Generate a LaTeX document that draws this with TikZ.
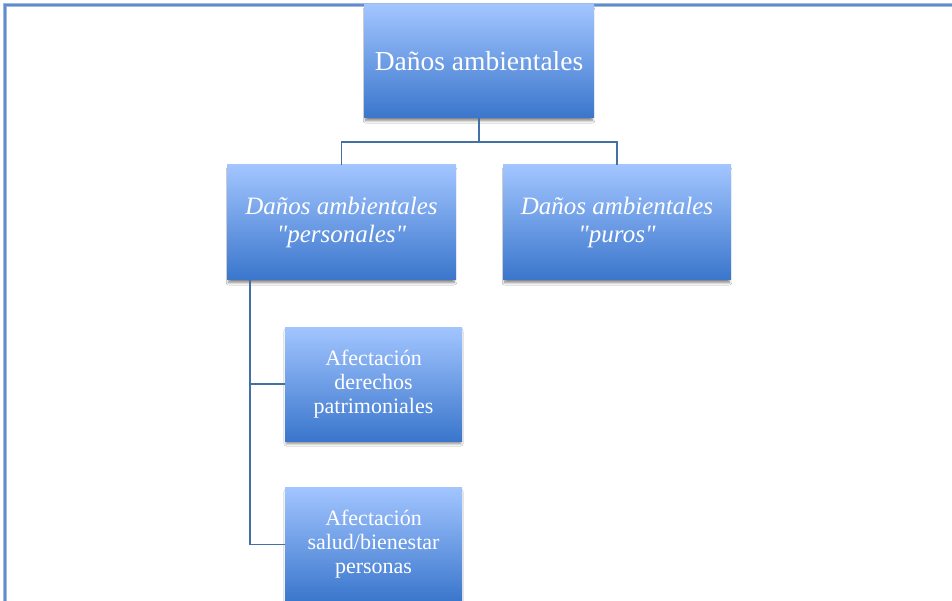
\documentclass[tikz,border=0pt]{standalone}
\usepackage{fontspec}
\setmainfont{Liberation Serif}
\usetikzlibrary{shadows.blur}
\definecolor{boxtop}{RGB}{162,197,255}
\definecolor{boxbot}{RGB}{58,118,204}
\definecolor{linkblue}{RGB}{68,112,168}
\definecolor{frameblue}{RGB}{96,140,206}
\begin{document}
\begin{tikzpicture}[x=1pt,y=-1pt,
  box/.style={rectangle, inner sep=0pt, align=center, text=white,
    top color=boxtop, bottom color=boxbot, draw=none,
    blur shadow={shadow xshift=0pt, shadow yshift=-3.5pt, shadow scale=0.985,
      shadow blur radius=2.5pt, shadow blur steps=6, shadow opacity=50}},
  conn/.style={draw=linkblue, line width=1.6pt}]
  \useasboundingbox (0,0) rectangle (952,601);
  \fill[white] (0,0) rectangle (952,601);
  % page frame
  \draw[frameblue!60, line width=3.6pt] (5,601) -- (5,5) -- (952,5);
  \draw[frameblue, line width=1.8pt] (5,601) -- (5,5) -- (952,5);
  % boxes
  \node[box, minimum width=230, minimum height=113,
    font=\fontsize{27.5}{30}\selectfont] (top) at (479,61.5) {Daños ambientales};
  \node[box, minimum width=229, minimum height=115,
    font=\fontsize{25}{28}\selectfont\itshape] (L) at (341.5,222.5)
    {Daños ambientales\\\textquotedbl personales\textquotedbl};
  \node[box, minimum width=228, minimum height=115,
    font=\fontsize{25}{28}\selectfont\itshape] (R) at (617,222.5)
    {Daños ambientales\\\textquotedbl puros\textquotedbl};
  \node[box, minimum width=177, minimum height=114,
    font=\fontsize{22}{24}\selectfont] (C1) at (373.5,384)
    {Afectación\\derechos\\patrimoniales};
  \node[box, minimum width=177, minimum height=114,
    font=\fontsize{22}{24}\selectfont] (C2) at (373.5,544.5)
    {Afectación\\salud/bienestar\\personas};
  % connectors
  \draw[conn] (top.south) -- ++(0,24) coordinate (fork) -| (L.north);
  \draw[conn] (fork) -| (R.north);
  \draw[conn] ([xshift=23]L.south west) coordinate (trunk) |- (C1.west);
  \draw[conn] (trunk) |- (C2.west);
\end{tikzpicture}
\end{document}
